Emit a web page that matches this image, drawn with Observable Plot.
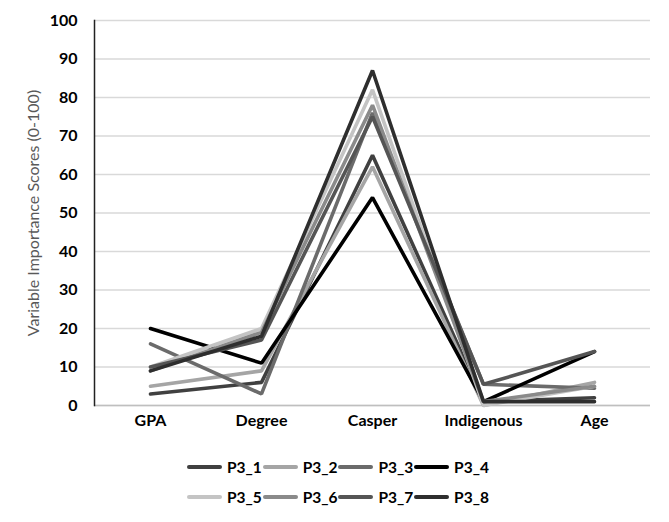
<!DOCTYPE html>
<html>
<head>
<meta charset="utf-8">
<script src="https://cdn.jsdelivr.net/npm/d3@7"></script>
<script src="https://cdn.jsdelivr.net/npm/@observablehq/plot@0.6"></script>
<style>
  html, body { margin: 0; padding: 0; background: #fff; }
  #wrap { position: relative; width: 669px; height: 522px; font-family: Lato, "Open Sans", sans-serif; }
  #legend { position: absolute; left: 187px; top: 452px; width: 330px; }
  .row { display: flex; height: 30px; align-items: center; }
  .item { display: flex; align-items: center; width: 75.7px; }
  .sw { width: 35px; height: 4px; border-radius: 2px; margin-right: 5px; }
  .lab { font-size: 15.5px; font-weight: bold; color: #000; }
</style>
</head>
<body>
<div id="wrap"><div id="chart"></div><div id="legend"></div></div>
<script>
const categories = ["GPA", "Degree", "Casper", "Indigenous", "Age"];
const seriesNames = ["P3_1", "P3_2", "P3_3", "P3_4", "P3_5", "P3_6", "P3_7", "P3_8"];
const seriesColors = ["#404040", "#a5a5a5", "#6b6b6b", "#000000", "#c4c4c4", "#8a8a8a", "#555555", "#2e2e2e"];
const P3_1 = [3, 6, 65, 1, 2];
const P3_2 = [5, 9, 62, 0, 6];
const P3_3 = [16, 3, 76, 5.5, 4.5];
const P3_4 = [20, 11, 54, 1, 14];
const P3_5 = [10, 20, 82, 0, 5];
const P3_6 = [9, 19, 78, 1, 5];
const P3_7 = [10, 17, 75, 5.5, 14];
const P3_8 = [9, 18, 87, 1, 1];
const yTicks = [0, 10, 20, 30, 40, 50, 60, 70, 80, 90, 100];

const seriesValues = [P3_1, P3_2, P3_3, P3_4, P3_5, P3_6, P3_7, P3_8];
const rows = [];
seriesNames.forEach((s, i) => {
  categories.forEach((c, j) => rows.push({series: s, cat: c, value: seriesValues[i][j]}));
});

const chart = Plot.plot({
  width: 669,
  height: 440,
  marginLeft: 94,
  marginRight: 19,
  marginTop: 20,
  marginBottom: 35,
  style: {fontFamily: "Lato, 'Open Sans', sans-serif", background: "#fff"},
  x: {type: "point", domain: categories, padding: 0.5, label: null},
  y: {domain: [0, 100], ticks: yTicks, label: "Variable Importance Scores (0-100)"},
  color: {domain: seriesNames, range: seriesColors},
  marks: [
    Plot.gridY(yTicks, {stroke: "#d9d9d9", strokeOpacity: 1, strokeWidth: 1.3}),
    Plot.ruleY([0], {stroke: "#bfbfbf", strokeWidth: 1.3}),
    Plot.axisY({ticks: yTicks, tickSize: 0, tickPadding: 17, fontSize: 16, fontWeight: "bold", fill: "#000",
      label: "Variable Importance Scores (0-100)", labelAnchor: "center", labelArrow: "none", labelOffset: 67}),
    Plot.axisX({tickSize: 0, tickPadding: 9, fontSize: 16, fontWeight: "bold", fill: "#000", label: null}),
    Plot.frame({anchor: "left", stroke: "#222", strokeWidth: 1.5}),
    Plot.line(rows, {x: "cat", y: "value", z: "series", stroke: "series", strokeWidth: 3.6,
      strokeLinejoin: "miter", strokeLinecap: "round"})
  ]
});
// style the y-axis title
chart.querySelectorAll("[aria-label='y-axis label'] text").forEach(t => {
  t.setAttribute("fill", "#595959");
  t.style.fontSize = "16px";
  t.style.fontWeight = "normal";
});
document.getElementById("chart").appendChild(chart);

const legend = document.getElementById("legend");
for (let r = 0; r < 2; r++) {
  const row = document.createElement("div");
  row.className = "row";
  for (let k = 0; k < 4; k++) {
    const i = r * 4 + k;
    const item = document.createElement("div");
    item.className = "item";
    const sw = document.createElement("div");
    sw.className = "sw";
    sw.style.background = seriesColors[i];
    const lab = document.createElement("span");
    lab.className = "lab";
    lab.textContent = seriesNames[i];
    item.appendChild(sw); item.appendChild(lab);
    row.appendChild(item);
  }
  legend.appendChild(row);
}
</script>
</body>
</html>
